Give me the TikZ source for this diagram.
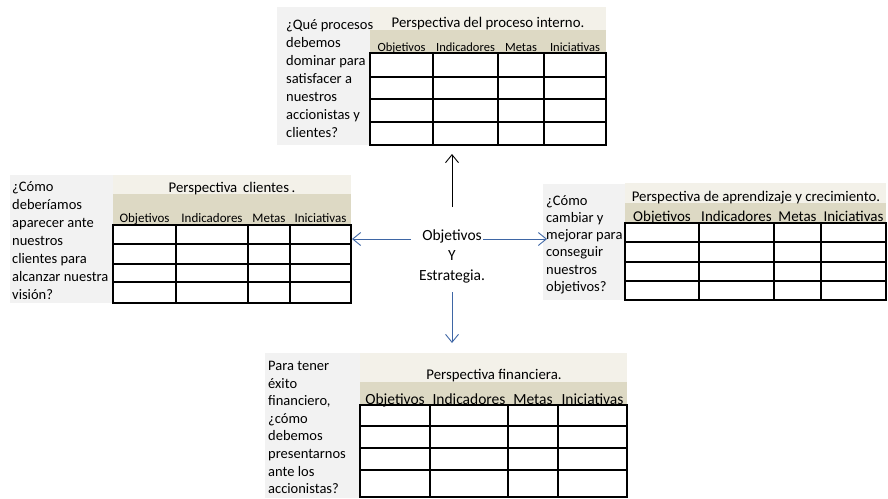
\documentclass[tikz,border=0pt]{standalone}
\usepackage{fontspec}
\setmainfont{Carlito}
\usetikzlibrary{arrows.meta}
\definecolor{qgray}{HTML}{F2F2F2}
\definecolor{cream}{HTML}{F3F1E9}
\definecolor{tanband}{HTML}{DDD9C4}
\definecolor{arrblue}{RGB}{62,102,165}
\begin{document}
\begin{tikzpicture}[x=1pt,y=-1pt,
  gridline/.style={line width=1.2pt,black},
  qtext/.style={anchor=north west,inner sep=0pt,align=left,font=\fontsize{14.5}{18}\selectfont},
  ttl/.style={anchor=base,inner sep=0pt,font=\fontsize{14.8}{18}\selectfont},
  hd/.style={anchor=base,inner sep=0pt},
  arr/.style={line width=0.9pt,-{Straight Barb[length=8pt,width=13pt]}}
]
\useasboundingbox (0,0) rectangle (888,498);

% ---------- top: proceso interno ----------
\fill[qgray] (277,7) rectangle (370,145);
\fill[cream] (370,7) rectangle (606,30);
\fill[tanband] (370,30) rectangle (606,53);
\draw[gridline] (370,53) rectangle (606,145);
\foreach \y in {77,99,122} \draw[gridline] (370,\y) -- (606,\y);
\foreach \x in {433,498,544} \draw[gridline] (\x,53) -- (\x,145);
\node[qtext] (qtop) at (286,16.5) {\strut ¿Qué procesos\\debemos\\dominar para\\satisfacer a\\nuestros\\accionistas y\\clientes?};
\node[ttl] (ttop) at (488,27.5) {Perspectiva del proceso interno.};
\begin{scope}[every node/.style={hd,font=\fontsize{12.5}{15}\selectfont}]
\node (ht1) at (401.5,51) {Objetivos};
\node (ht2) at (465.5,51) {Indicadores};
\node (ht3) at (521,51) {Metas};
\node (ht4) at (575,51) {Iniciativas};
\end{scope}

% ---------- left: clientes ----------
\fill[qgray] (10,175) rectangle (113,303);
\fill[cream] (113,175) rectangle (351,194);
\fill[tanband] (113,194) rectangle (351,225);
\draw[gridline] (113,225) rectangle (351,303);
\foreach \y in {244,264,282} \draw[gridline] (113,\y) -- (351,\y);
\foreach \x in {176,248,290} \draw[gridline] (\x,225) -- (\x,303);
\node[qtext] (qleft) at (12,178.3) {\strut ¿Cómo\\deberíamos\\aparecer ante\\nuestros\\clientes para\\alcanzar nuestra\\visión?};
\node[ttl] (tleft) at (232,192.5) {Perspectiva\, clientes\,.};
\begin{scope}[every node/.style={hd,font=\fontsize{13}{15}\selectfont}]
\node (hl1) at (144.5,222) {Objetivos};
\node (hl2) at (212,222) {Indicadores};
\node (hl3) at (269,222) {Metas};
\node (hl4) at (320.5,222) {Iniciativas};
\end{scope}

% ---------- right: aprendizaje ----------
\fill[qgray] (543,184) rectangle (625,300);
\fill[cream] (625,183) rectangle (886,203);
\fill[tanband] (625,203) rectangle (886,223);
\draw[gridline] (625,223) rectangle (886,300);
\foreach \y in {242,262,281} \draw[gridline] (625,\y) -- (886,\y);
\foreach \x in {699,774,821} \draw[gridline] (\x,223) -- (\x,300);
\node[qtext,font=\fontsize{14.5}{17.1}\selectfont] (qright) at (546,193.5) {\strut ¿Cómo\\cambiar y\\mejorar para\\conseguir\\nuestros\\objetivos?};
\node[ttl] (tright) at (756,201.5) {Perspectiva de aprendizaje y crecimiento.};
\begin{scope}[every node/.style={hd,font=\fontsize{15}{17}\selectfont}]
\node (hr1) at (662,221.5) {Objetivos};
\node (hr2) at (736.5,221.5) {Indicadores};
\node (hr3) at (797.5,221.5) {Metas};
\node (hr4) at (853.5,221.5) {Iniciativas};
\end{scope}

% ---------- bottom: financiera ----------
\fill[qgray] (265,353) rectangle (360,498);
\fill[cream] (360,353) rectangle (627,382);
\fill[tanband] (360,382) rectangle (627,405);
\draw[gridline] (360,405) rectangle (627,497);
\foreach \y in {426,448,470} \draw[gridline] (360,\y) -- (627,\y);
\foreach \x in {430,508,558} \draw[gridline] (\x,405) -- (\x,497);
\node[qtext,font=\fontsize{14.5}{17.6}\selectfont] (qbottom) at (268,358) {\strut Para tener\\éxito\\financiero,\\¿cómo\\debemos\\presentarnos\\ante los\\accionistas?};
\node[ttl] (tbottom) at (494,379.5) {Perspectiva financiera.};
\begin{scope}[every node/.style={hd,font=\fontsize{15.5}{18}\selectfont}]
\node (hb1) at (395,404) {Objetivos};
\node (hb2) at (469,404) {Indicadores};
\node (hb3) at (533,404) {Metas};
\node (hb4) at (592.5,404) {Iniciativas};
\end{scope}

% ---------- centre ----------
\node[align=center,inner sep=0pt,font=\fontsize{15.5}{20}\selectfont] (ctr) at (452,256) {Objetivos\\Y\\Estrategia.};

\coordinate (upS) at (452,207);
\coordinate (upE) at (452,154);
\coordinate (lfS) at (411,239);
\coordinate (lfE) at (352,239);
\coordinate (rtS) at (483,239);
\coordinate (rtE) at (547,239);
\coordinate (dnS) at (452,292);
\coordinate (dnE) at (452,343);

\draw[arr,black] (upS) -- (upE);
\draw[arr,arrblue] (lfS) -- (lfE);
\draw[arr,arrblue] (rtS) -- (rtE);
\draw[arr,arrblue] (dnS) -- (dnE);
\end{tikzpicture}
\end{document}
